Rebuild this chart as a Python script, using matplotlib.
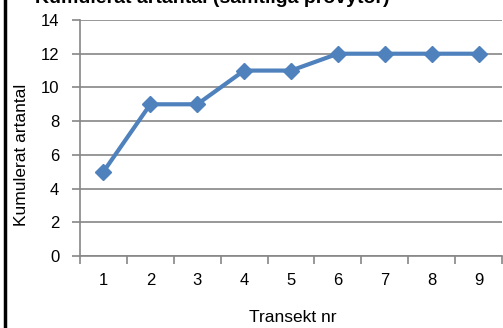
import matplotlib
matplotlib.use("Agg")
import matplotlib.pyplot as plt
from matplotlib.lines import Line2D

plt.rcParams['font.family'] = ['Liberation Sans', 'DejaVu Sans']

transekt = ['1', '2', '3', '4', '5', '6', '7', '8', '9']
kumulerat = [5, 9, 9, 11, 11, 12, 12, 12, 12]
y_ticks = [0, 2, 4, 6, 8, 10, 12, 14]

W, H = 503, 328
fig = plt.figure(figsize=(W / 100, H / 100), dpi=100)
fig.patch.set_facecolor('white')

# plot area in pixel coordinates
left, right, top, bottom = 80, 502, 20, 256
ax = fig.add_axes([left / W, 1 - bottom / H, (right - left) / W, (bottom - top) / H])

grid_col = '#868686'
x = list(range(len(transekt)))
ax.plot(x, kumulerat, color='#4F81BD', lw=3, marker='D', ms=8.5,
        markerfacecolor='#4F81BD', markeredgecolor='#4F81BD', zorder=3,
        solid_joinstyle='round')

ax.set_xlim(-0.5, len(transekt) - 0.5)
ax.set_ylim(0, 14)
ax.set_yticks(y_ticks)
ax.set_yticklabels([str(v) for v in y_ticks])
ax.yaxis.grid(True, color=grid_col, lw=1.2)
ax.set_axisbelow(True)

# category axis: ticks between categories, labels centred on categories
ax.set_xticks([i - 0.5 for i in range(len(transekt) + 1)])
ax.set_xticklabels([])
ax.set_xticks(x, minor=True)
ax.set_xticklabels(transekt, minor=True)
ax.tick_params(axis='x', which='minor', length=0, pad=12, labelsize=12)
ax.tick_params(axis='x', which='major', length=6, width=1.2, color=grid_col)
ax.tick_params(axis='y', length=6, width=1.2, color=grid_col, labelsize=12, pad=9)

for side in ['left', 'bottom', 'right', 'top']:
    ax.spines[side].set_color(grid_col)
    ax.spines[side].set_linewidth(1.2)
ax.spines['top'].set_visible(False)
ax.spines['right'].set_visible(False)

fig.text(293 / W, 1 - 318 / H, 'Transekt nr', ha='center', va='center', fontsize=12.5)
fig.text(22 / W, 1 - 155 / H, 'Kumulerat artantal', ha='center', va='center',
         rotation=90, fontsize=12.5)

# chart title, partly outside the top edge
fig.text(35 / W, 1 - 3 / H, 'Kumulerat artantal (samtliga provytor)',
         ha='left', va='baseline', fontsize=14, fontweight='bold')

# frame line on the left
fig.add_artist(Line2D([5 / W, 5 / W], [0, 1], color='black', lw=2.5,
                      transform=fig.transFigure))

fig.savefig('out.png', dpi=100, facecolor='white')
